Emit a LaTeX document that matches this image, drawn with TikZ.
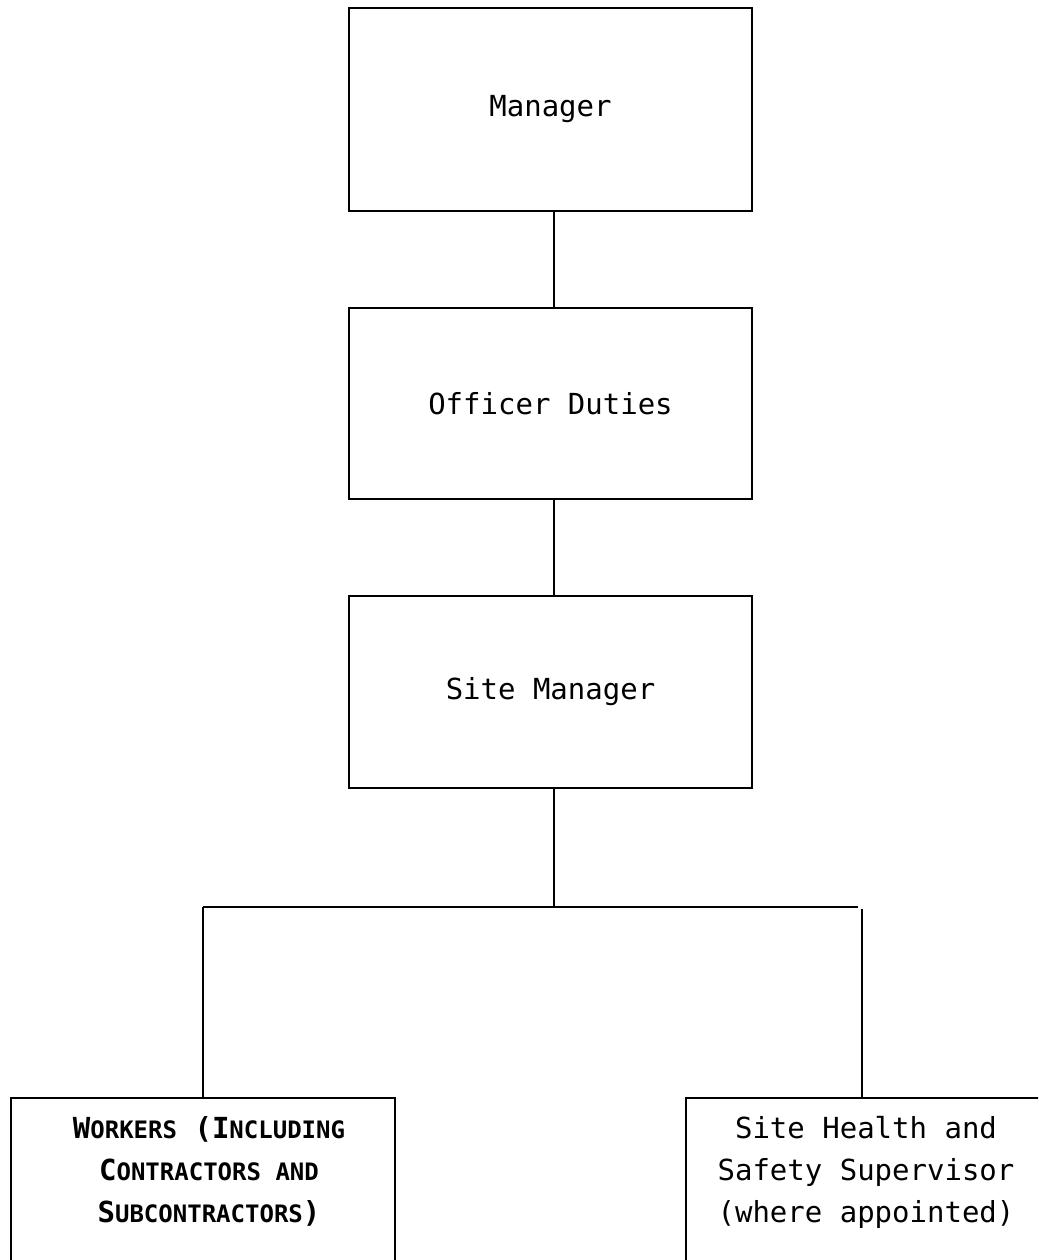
\documentclass[tikz,border=0pt]{standalone}
\usepackage{fontspec}
\setmonofont{DejaVu Sans Mono}
\newcommand\bigsz{\fontsize{29}{42}\selectfont}
\newcommand\smsz{\fontsize{24}{42}\selectfont}
\newcommand\fsc[2]{{\bigsz #1}{\smsz #2}}
\tikzset{
  boxnode/.style={draw, line width=2pt, minimum width=403pt, inner sep=0pt, font=\ttfamily\bigsz},
  lowbox/.style={draw, line width=2pt, inner sep=0pt, anchor=north west},
  lowtext/.style={font=\ttfamily\bigsz, align=center, inner sep=0pt, anchor=north},
  conn/.style={line width=2pt}
}
\begin{document}
\begin{tikzpicture}[x=1pt,y=-1pt]
\useasboundingbox (0,0) rectangle (1038,1260);
\clip (0,0) rectangle (1038,1260);
\node[boxnode, minimum height=203pt] (mgr) at (550.5,109.5) {Manager};
\node[boxnode, minimum height=191pt] (off) at (550.5,403.5) {Officer Duties};
\node[boxnode, minimum height=192pt] (site) at (550.5,692) {Site Manager};
\node[lowbox, minimum width=384pt, minimum height=200pt] (workers) at (10,1097) {};
\node[lowbox, minimum width=400pt, minimum height=200pt] (shs) at (685,1097) {};
\node[lowtext, font=\ttfamily\bfseries\bigsz] (workerstext) at (209,1116) {\fsc{W}{ORKERS} {\bigsz(}\fsc{I}{NCLUDING}\\\fsc{C}{ONTRACTORS AND}\\\fsc{S}{UBCONTRACTORS}{\bigsz)}};
\node[lowtext] (shstext) at (866,1116) {Site Health and\\Safety Supervisor\\(where appointed)};
\coordinate (junc) at (554,907);
\coordinate (jl) at (203,907);
\coordinate (jr) at (858,907);
\coordinate (rtop) at (862,909);
\draw[conn] (mgr.south -| junc) -- (off.north -| junc);
\draw[conn] (off.south -| junc) -- (site.north -| junc);
\draw[conn] (site.south -| junc) -- (junc);
\draw[conn] (jl) -- (jr);
\draw[conn] (jl) -- (workers.north -| jl);
\draw[conn] (rtop) -- (shs.north -| rtop);
\end{tikzpicture}
\end{document}
